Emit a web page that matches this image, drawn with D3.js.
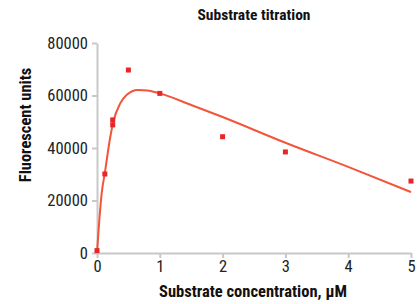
<!DOCTYPE html>
<html>
<head>
  <meta charset="utf-8">
  <title>Substrate titration</title>
  <script src="https://d3js.org/d3.v7.min.js"></script>
  <style>
    body { margin: 0; background: #fff; }
    svg text { font-family: "Liberation Sans Narrow", "Arial Narrow", "Roboto Condensed", sans-serif; }
    .axis path, .axis line { stroke: #c8c8c8; }
    .axis text { font-size: 16.5px; fill: #222; }
    .ttl { font-weight: bold; fill: #111; }
  </style>
</head>
<body>
<div id="chart"></div>
<script>

// measured points (concentration in uM, fluorescence)
var concentration = [0, 0.125, 0.25, 0.25, 0.5, 1, 2, 3, 5];
var fluorescence  = [900, 30100, 50700, 48800, 69700, 60800, 44300, 38500, 27400];

// fitted curve
var fitX = [0, 0.05, 0.075, 0.125, 0.21, 0.26, 0.37, 0.47, 0.65, 0.8, 1, 1.5, 2, 3, 4, 5];
var fitY = [0, 16400, 22800, 30500, 44000, 50000, 57000, 60200, 62100, 61900, 60800, 56400, 51800, 42000, 32800, 23200];

var xTicks = [0, 1, 2, 3, 4, 5];
var yTicks = [0, 20000, 40000, 60000, 80000];

var width = 418, height = 304;
var margin = {top: 43, right: 7, bottom: 51, left: 97};

var svg = d3.select("#chart").append("svg")
    .attr("width", width)
    .attr("height", height);

var x = d3.scaleLinear().domain([0, 5]).range([margin.left, width - margin.right]);
var y = d3.scaleLinear().domain([0, 80000]).range([height - margin.bottom, margin.top]);

svg.append("g")
    .attr("class", "axis")
    .attr("transform", "translate(0," + (height - margin.bottom) + ")")
    .call(d3.axisBottom(x).tickValues(xTicks).tickSize(5).tickSizeOuter(0).tickFormat(d3.format("d")))
    .call(function(g) { g.select(".domain").attr("stroke-width", 2); })
    .call(function(g) { g.selectAll(".tick line").attr("stroke-width", 2); })
    .call(function(g) { g.selectAll("text").attr("y", 6).attr("dy", "0.8em"); });

svg.append("g")
    .attr("class", "axis")
    .attr("transform", "translate(" + margin.left + ",0)")
    .call(d3.axisLeft(y).tickValues(yTicks).tickSize(5).tickSizeOuter(0).tickFormat(d3.format("d")))
    .call(function(g) { g.select(".domain").attr("stroke-width", 2); })
    .call(function(g) { g.selectAll(".tick line").attr("stroke-width", 2); })
    .call(function(g) { g.selectAll("text").attr("x", -9); });

// fit line
var line = d3.line()
    .x(function(d) { return x(d[0]); })
    .y(function(d) { return y(d[1]); })
    .curve(d3.curveMonotoneX);

svg.append("path")
    .datum(d3.zip(fitX, fitY))
    .attr("fill", "none")
    .attr("stroke", "#f2553a")
    .attr("stroke-width", 2)
    .attr("d", line);

// data points
svg.selectAll("rect.pt")
    .data(d3.zip(concentration, fluorescence))
    .enter().append("rect")
    .attr("class", "pt")
    .attr("x", function(d) { return x(d[0]) - 2.5; })
    .attr("y", function(d) { return y(d[1]) - 2.5; })
    .attr("width", 5)
    .attr("height", 5)
    .attr("fill", "#e8262a");

// titles
svg.append("text")
    .attr("class", "ttl")
    .attr("x", 254).attr("y", 20)
    .attr("text-anchor", "middle")
    .attr("font-size", 15.5)
    .text("Substrate titration");

svg.append("text")
    .attr("class", "ttl")
    .attr("x", 253).attr("y", 297)
    .attr("text-anchor", "middle")
    .attr("font-size", 16.5)
    .text("Substrate concentration, \u03bcM");

svg.append("text")
    .attr("class", "ttl")
    .attr("transform", "translate(31,125) rotate(-90)")
    .attr("text-anchor", "middle")
    .attr("font-size", 16.5)
    .text("Fluorescent units");

</script>
</body>
</html>
